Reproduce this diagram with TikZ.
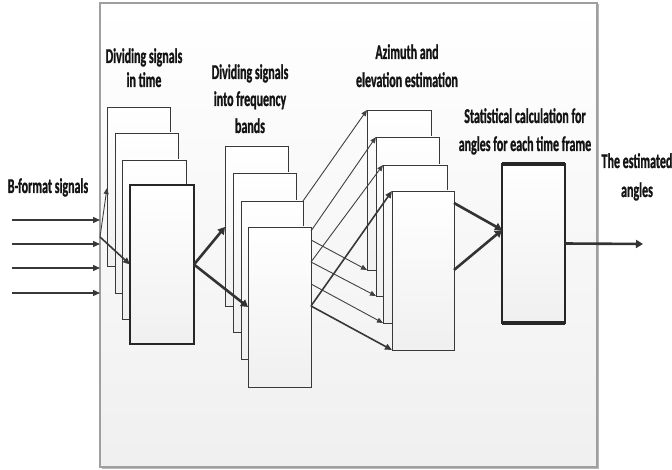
\documentclass[tikz,border=0pt]{standalone}
\usepackage{fontspec}
\setmainfont{Carlito}[FakeStretch=0.57, BoldFeatures={FakeBold=1}]
\usetikzlibrary{arrows.meta,shadows}
\newcommand\mybox[6]{\node[#6, minimum width={(#4-#2)*1pt}, minimum height={(#5-#3)*1pt}] (#1) at (#2,-#3) {};}
\begin{document}
\begin{tikzpicture}[x=1pt,y=1pt,
  frame/.style={draw=gray!75, line width=1.2pt, top color=white, bottom color=gray!12,
    inner sep=0pt, outer sep=0pt, anchor=north west,
    drop shadow={shadow xshift=1.5pt, shadow yshift=-1.5pt, fill=gray!70, opacity=0.8}},
  box/.style={draw=black!78, line width=0.9pt, top color=white, bottom color=gray!12,
    inner sep=0pt, outer sep=0pt, anchor=north west,
    drop shadow={shadow xshift=1pt, shadow yshift=-1pt, fill=gray!60, opacity=0.5}},
  heavybox/.style={box, draw=black!85, line width=2.8pt},
  statbox/.style={box, draw=black!85, line width=2.2pt},
  lbl/.style={font=\bfseries\fontsize{21}{27}\selectfont, align=center, inner sep=0pt, text=black!92, anchor=base},
  thin/.style={draw=black!75, line width=0.9pt, -{Triangle[length=6pt,width=5pt]}},
  mid/.style={draw=black!78, line width=1.6pt, -{Triangle[length=7pt,width=6pt]}},
  fat/.style={draw=black!80, line width=2.6pt, -{Triangle[length=7pt,width=8pt]}},
]
\useasboundingbox (0,0) rectangle (672,-470);

% outer frame
\mybox{frame}{100}{3}{597}{467}{frame}

% group 1: dividing in time
\mybox{t1}{107}{107}{170}{266}{box}
\mybox{t2}{115}{133}{178}{293}{box}
\mybox{t3}{122}{160}{186}{319}{box}
\mybox{t4}{130}{185}{194}{344}{heavybox}

% group 2: frequency bands
\mybox{f1}{225}{146}{288}{306}{box}
\mybox{f2}{233}{173}{296}{332}{box}
\mybox{f3}{241}{201}{303}{359}{box}
\mybox{f4}{248}{227}{311}{387}{box}

% group 3: azimuth and elevation
\mybox{a1}{367}{110}{431}{270}{box}
\mybox{a2}{376}{137}{439}{296}{box}
\mybox{a3}{383}{165}{447}{323}{box}
\mybox{a4}{392}{191}{454}{350}{box}

% group 4: statistics
\mybox{s}{502}{164}{565}{323}{statbox}
\draw[black!85, line width=4pt] (s.north west) -- (s.north east);
\draw[black!85, line width=4pt] (s.south west) -- (s.south east);

% labels (anchor = baseline of last line)
\node[lbl] (lin) at (48,-193) {B-format signals};
\node[lbl, font=\bfseries\fontsize{21}{24}\selectfont] (lt) at (144,-87) {Dividing signals\\in time};
\node[lbl] (lf) at (250,-133) {Dividing signals\\into frequency\\bands};
\node[lbl, font=\bfseries\fontsize{21}{28}\selectfont] (la) at (407,-87) {Azimuth and\\elevation estimation};
\node[lbl, font=\bfseries\fontsize{21}{28}\selectfont] (ls) at (525,-151) {Statistical calculation for\\angles for each time frame};
\node[lbl, font=\bfseries\fontsize{21}{29}\selectfont] (lo) at (637,-197) {The estimated\\angles};

% inputs
\coordinate (i1) at (12,-220);
\coordinate (i2) at (12,-244);
\coordinate (i3) at (12,-268);
\coordinate (i4) at (12,-293);
\foreach \i in {1,...,4} \draw[mid, line width=1.3pt] (i\i) -- (i\i -| frame.west);

% split into time frames
\coordinate (sp) at (frame.west |- 0,-237);
\draw[thin] (sp) -- (t1.west |- 0,-188);
\draw[mid] (sp) -- (t4.west);

% time -> frequency
\draw[fat] (t4.east) -- (f1.west |- 0,-227);
\draw[fat] (t4.east) -- (f4.west);

% frequency -> azimuth/elevation
\draw[thin] (f3.north east) -- (a1.north west);
\draw[thin] (f4.east |- 0,-231) -- (a2.north west);
\draw[thin] (f4.east |- 0,-262) -- (a3.north west);
\draw[mid] (f4.east |- 0,-306) -- (a4.north west);
\draw[thin] (f4.east |- 0,-240) -- (a1.south west);
\draw[thin] (f4.east |- 0,-262) -- (a2.south west);
\draw[thin] (f4.east |- 0,-284) -- (a3.south west);
\draw[mid] (f4.east |- 0,-306) -- (a4.south west);

% azimuth -> statistics
\draw[fat] (a4.east |- 0,-203) -- (s.west |- 0,-230);
\draw[fat] (a4.east |- 0,-270) -- (s.west |- 0,-230);

% output
\coordinate (out) at (643,-244);
\draw[fat] (s.east) -- (out);
\end{tikzpicture}
\end{document}
